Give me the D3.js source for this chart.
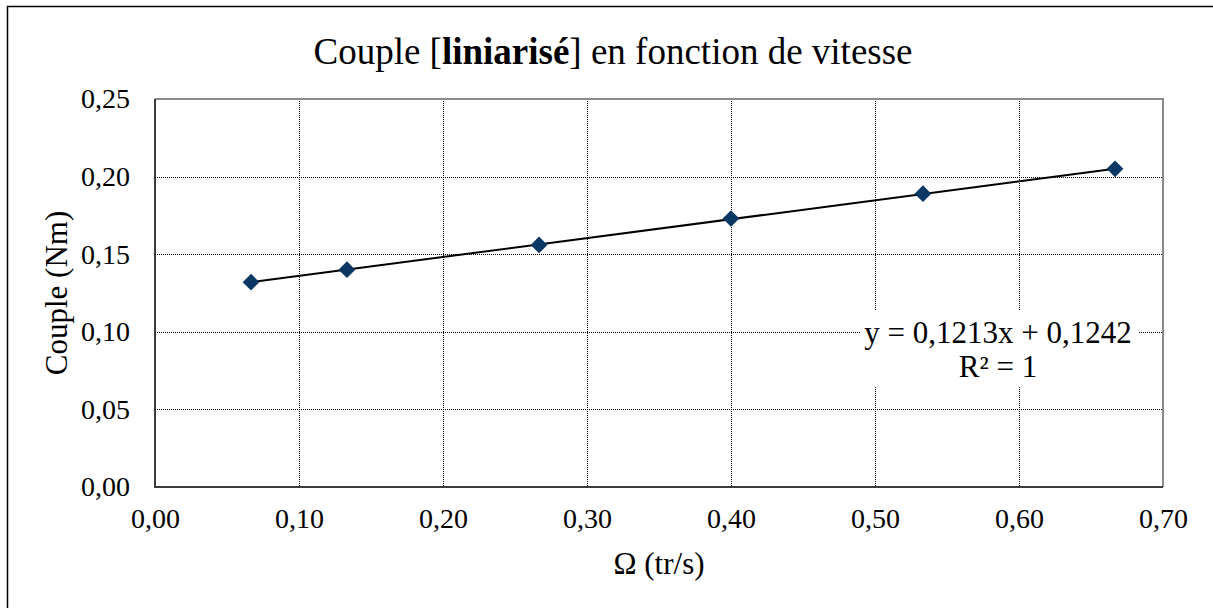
<!DOCTYPE html>
<html>
<head>
<meta charset="utf-8">
<script src="https://cdn.jsdelivr.net/npm/d3@7"></script>
<style>
  body { margin: 0; background: #fff; }
  svg text { font-family: "Liberation Serif", "Times New Roman", serif; fill: #000; }
</style>
</head>
<body>
<div id="chart"></div>
<script>
// Data
const speeds = [0.0667, 0.1333, 0.2667, 0.4000, 0.5333, 0.6667];
const torques = [0.132, 0.140, 0.156, 0.173, 0.189, 0.205];
const xTicks = [0, 0.1, 0.2, 0.3, 0.4, 0.5, 0.6, 0.7];
const yTicks = [0, 0.05, 0.10, 0.15, 0.20, 0.25];
const eqLines = ["y = 0,1213x + 0,1242", "R² = 1"];

// SVG dimensions
const w = 1213;
const h = 608;
const padLeft = 155, padRight = 1163, padTop = 99, padBottom = 487;

const fmt = d => d3.format(".2f")(d).replace(".", ",");

const svg = d3.select("#chart")
    .append("svg")
    .attr("width", w)
    .attr("height", h);

// Outer chart border
svg.append("rect")
    .attr("x", 7.5).attr("y", 6.5)
    .attr("width", w).attr("height", h)
    .attr("fill", "none")
    .attr("stroke", "#000")
    .attr("stroke-width", 1.5);

// Scales
const xScale = d3.scaleLinear().domain([0, 0.7]).range([padLeft, padRight]);
const yScale = d3.scaleLinear().domain([0, 0.25]).range([padBottom, padTop]);

// Gridlines
svg.append("g")
    .selectAll("line")
    .data(yTicks.slice(1, -1))
    .enter()
    .append("line")
    .attr("x1", padLeft).attr("x2", padRight)
    .attr("y1", d => Math.round(yScale(d)) + 0.5)
    .attr("y2", d => Math.round(yScale(d)) + 0.5)
    .attr("stroke", "#000")
    .attr("stroke-dasharray", "1,1");

svg.append("g")
    .selectAll("line")
    .data(xTicks.slice(1, -1))
    .enter()
    .append("line")
    .attr("y1", padTop).attr("y2", padBottom)
    .attr("x1", d => Math.round(xScale(d)) + 0.5)
    .attr("x2", d => Math.round(xScale(d)) + 0.5)
    .attr("stroke", "#000")
    .attr("stroke-dasharray", "1,1");

// Plot area frame: top/right grey, left/bottom dark
svg.append("path")
    .attr("d", "M" + padLeft + "," + padTop + "H" + padRight + "V" + padBottom)
    .attr("fill", "none")
    .attr("stroke", "#8c8c8c")
    .attr("stroke-width", 2);
svg.append("path")
    .attr("d", "M" + padLeft + "," + padTop + "V" + padBottom + "H" + padRight)
    .attr("fill", "none")
    .attr("stroke", "#3c3c3c")
    .attr("stroke-width", 2);

// Axes tick labels
const yAxis = d3.axisLeft(yScale).tickValues(yTicks).tickFormat(fmt).tickSize(0).tickPadding(25);
const xAxis = d3.axisBottom(xScale).tickValues(xTicks).tickFormat(fmt).tickSize(0).tickPadding(21);

svg.append("g")
    .attr("transform", "translate(" + padLeft + ",0)")
    .call(yAxis)
    .call(g => g.select(".domain").remove())
    .selectAll("text")
    .style("font-family", "Liberation Serif")
    .style("font-size", "28px");

svg.append("g")
    .attr("transform", "translate(0," + padBottom + ")")
    .call(xAxis)
    .call(g => g.select(".domain").remove())
    .selectAll("text")
    .style("font-family", "Liberation Serif")
    .style("font-size", "28px");

// Trend line
svg.append("line")
    .attr("x1", xScale(speeds[0]))
    .attr("y1", yScale(torques[0]))
    .attr("x2", xScale(speeds[speeds.length - 1]))
    .attr("y2", yScale(torques[torques.length - 1]))
    .attr("stroke", "#000")
    .attr("stroke-width", 2);

// Markers
svg.selectAll(".pt")
    .data(speeds)
    .enter()
    .append("path")
    .attr("class", "pt")
    .attr("transform", (d, i) => "translate(" + xScale(d) + "," + yScale(torques[i]) + ") rotate(45)")
    .attr("d", d3.symbol().type(d3.symbolSquare).size(140))
    .attr("fill", "#0b3764");

// Equation label
const eqX = 998;
svg.append("rect")
    .attr("x", 861).attr("y", 311)
    .attr("width", 277).attr("height", 76)
    .attr("fill", "#fff");

svg.selectAll(".eq")
    .data(eqLines)
    .enter()
    .append("text")
    .attr("class", "eq")
    .attr("x", eqX)
    .attr("y", (d, i) => 343 + i * 34)
    .attr("text-anchor", "middle")
    .style("font-size", "31px")
    .text(d => d);

// Title
const title = svg.append("text")
    .attr("x", 613)
    .attr("y", 64)
    .attr("text-anchor", "middle")
    .style("font-size", "37px");
title.append("tspan").text("Couple [");
title.append("tspan").style("font-weight", "bold").text("liniarisé");
title.append("tspan").text("] en fonction de vitesse");

// Axis titles
svg.append("text")
    .attr("x", (padLeft + padRight) / 2)
    .attr("y", 574)
    .attr("text-anchor", "middle")
    .style("font-size", "31px")
    .text("Ω (tr/s)");

svg.append("text")
    .attr("transform", "translate(67," + (padTop + padBottom) / 2 + ") rotate(-90)")
    .attr("text-anchor", "middle")
    .style("font-size", "31px")
    .text("Couple (Nm)");
</script>
</body>
</html>
